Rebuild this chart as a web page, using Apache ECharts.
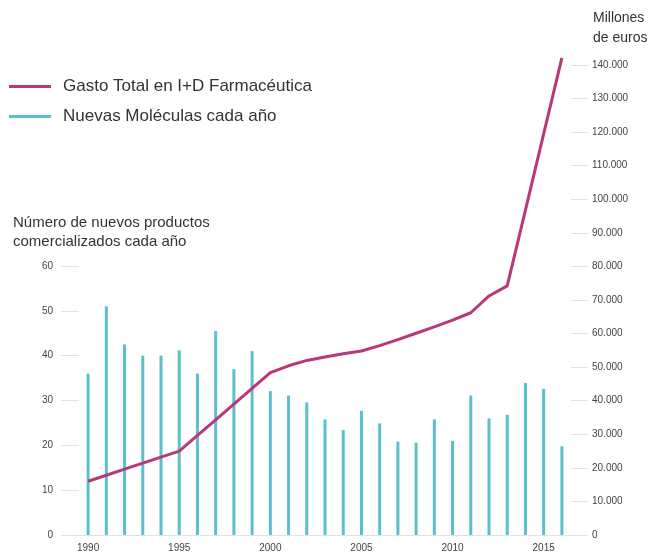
<!DOCTYPE html>
<html>
<head>
<meta charset="utf-8">
<script src="https://cdn.jsdelivr.net/npm/echarts@6/dist/echarts.min.js"></script>
<style>
html,body{margin:0;padding:0;background:#fff;}
#main{width:651px;height:554px;}
</style>
</head>
<body>
<div id="main"></div>
<script>
const years = ['1990','1991','1992','1993','1994','1995','1996','1997','1998','1999','2000','2001','2002','2003','2004','2005','2006','2007','2008','2009','2010','2011','2012','2013','2014','2015','2016'];
const newMolecules = [36,51,42.5,40,40,41.2,36,45.5,37,41,32.1,31.1,29.6,25.8,23.4,27.7,24.9,20.8,20.6,25.8,21,31.1,26,26.8,33.9,32.6,19.8];
const rdSpending = [16000,17800,19600,21400,23200,25000,29700,34300,39000,43700,48350,50400,52000,53000,54000,54800,56400,58200,60100,62000,64000,66200,71200,74200,96800,119500,142100];
const leftTicks = {min:0, max:60, interval:10};
const rightTicks = {min:0, max:140000, interval:10000};
const seriesNames = ['Gasto Total en I+D Farmacéutica','Nuevas Moléculas cada año'];
const leftTitle = 'Número de nuevos productos\ncomercializados cada año';
const rightTitle = 'Millones\nde euros';

const FONT = '"Liberation Sans", Arial, Helvetica, sans-serif';
const MAG = '#b9377b';
const TEAL = '#5bbfcc';
const TICK = '#e2e2e2';

const chart = echarts.init(document.getElementById('main'), null, {renderer:'canvas'});
const fmtThousands = v => v === 0 ? '0' : String(v).replace(/\B(?=(\d{3})+(?!\d))/g, '.');

chart.setOption({
  animation:false,
  backgroundColor:'#fff',
  textStyle:{fontFamily:FONT},
  legend:{
    orient:'vertical', left:4, top:73, itemGap:13,
    itemWidth:42, itemHeight:3, icon:'rect',
    data:seriesNames,
    textStyle:{fontSize:17, color:'#333', fontFamily:FONT, padding:[0,0,0,7]}
  },
  graphic:[
    {type:'text', left:13, top:213, style:{text:leftTitle, font:'15px '+FONT, fill:'#333', lineHeight:19}},
    {type:'text', left:593, top:8, style:{text:rightTitle, font:'14px '+FONT, fill:'#333', lineHeight:20}}
  ],
  grid:[
    {left:79, width:492, top:266, height:269},
    {left:79, width:492, top:65, height:470}
  ],
  xAxis:[
    {type:'category', gridIndex:0, data:years, boundaryGap:true,
     axisLine:{show:true, lineStyle:{color:TICK, width:1}},
     axisTick:{show:false},
     axisLabel:{interval:4, color:'#444', fontSize:10, margin:8, fontFamily:FONT}},
    {type:'category', gridIndex:1, data:years, boundaryGap:true, show:false}
  ],
  yAxis:[
    {type:'value', gridIndex:0, position:'left', min:leftTicks.min, max:leftTicks.max, interval:leftTicks.interval,
     axisLine:{show:false}, splitLine:{show:false},
     axisTick:{show:true, length:18, lineStyle:{color:TICK, width:1}},
     axisLabel:{color:'#444', fontSize:10, margin:26, fontFamily:FONT}},
    {type:'value', gridIndex:1, position:'right', min:rightTicks.min, max:rightTicks.max, interval:rightTicks.interval,
     axisLine:{show:false}, splitLine:{show:false},
     axisTick:{show:true, length:17, lineStyle:{color:TICK, width:1}},
     axisLabel:{color:'#444', fontSize:10, margin:21, fontFamily:FONT, formatter:fmtThousands}}
  ],
  series:[
    {name:seriesNames[1], type:'bar', xAxisIndex:0, yAxisIndex:0, data:newMolecules,
     barWidth:3, itemStyle:{color:TEAL}, z:2},
    {name:seriesNames[0], type:'line', xAxisIndex:1, yAxisIndex:1, data:rdSpending,
     symbol:'none', clip:false, lineStyle:{color:MAG, width:3}, itemStyle:{color:MAG}, z:3}
  ]
});
</script>
</body>
</html>
